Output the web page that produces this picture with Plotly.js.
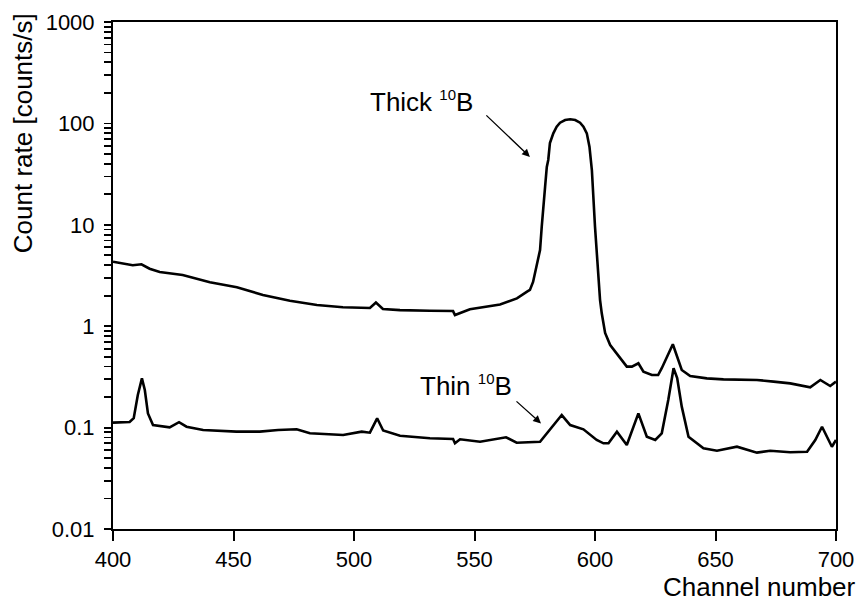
<!DOCTYPE html>
<html>
<head>
<meta charset="utf-8">
<script src="https://cdn.plot.ly/plotly-3.0.1.min.js"></script>
<style>html,body{margin:0;padding:0;background:#fff;}#chart{width:863px;height:604px;}</style>
</head>
<body>
<div id="chart"></div>
<script>
// Thick 10B target spectrum
const thickChannel = [400, 408.2, 411.8, 415.2, 419.4, 428.9, 440.2, 451.4, 462.2, 473.4, 484.6, 495.4, 506.6, 509.1, 512, 519.1, 531.5, 541.1, 541.9, 548.1, 560.6, 567.6, 571.8, 573.0, 574.3, 575.8, 577.2, 577.9, 578.6, 579.3, 580.0, 580.6, 581.3, 582.7, 584.1, 585.5, 587.6, 589.7, 591.8, 593.8, 595.2, 596.6, 597.7, 598.7, 600.0, 601.4, 602.1, 602.8, 604.2, 606.3, 609.1, 613.2, 615.3, 618.0, 620.1, 623.6, 626.2, 627.7, 632.3, 636.0, 639.5, 646.4, 653.3, 660.3, 667.2, 674.1, 681.0, 689.3, 693.5, 697.6, 700];
const thickRate = [4.33, 3.99, 4.08, 3.69, 3.42, 3.20, 2.71, 2.42, 2.03, 1.78, 1.62, 1.54, 1.51, 1.71, 1.48, 1.44, 1.42, 1.41, 1.29, 1.47, 1.64, 1.88, 2.19, 2.28, 2.73, 3.83, 5.64, 9.6, 14.0, 23.8, 37.2, 43.6, 64.1, 79.8, 92.8, 101.6, 108, 109.7, 108, 101.6, 92.8, 79.8, 58.9, 34.7, 9.6, 3.08, 1.81, 1.34, 0.857, 0.653, 0.540, 0.399, 0.399, 0.431, 0.356, 0.330, 0.330, 0.385, 0.663, 0.370, 0.323, 0.306, 0.299, 0.295, 0.295, 0.284, 0.273, 0.250, 0.295, 0.257, 0.284];

// Thin 10B target spectrum
const thinChannel = [400, 406.9, 408.6, 410.3, 412.0, 413.2, 414.5, 416.6, 423.5, 427.4, 430.5, 437.4, 451.2, 460.9, 468.5, 476.2, 481.7, 495.5, 503.2, 506.6, 509.6, 512.1, 519.1, 531.5, 541.1, 541.9, 544, 552.3, 563.1, 567.5, 577.2, 581.3, 586.2, 589.7, 595.2, 600.7, 603.5, 605.6, 609.1, 613.2, 618.0, 621.5, 625, 627.7, 630.4, 632.6, 634.1, 636.0, 638.8, 645.0, 650.6, 658.9, 667.2, 672.7, 681.0, 688.0, 691.4, 694.2, 696, 698.3, 700];
const thinRate = [0.112, 0.1135, 0.124, 0.210, 0.306, 0.235, 0.138, 0.106, 0.1007, 0.113, 0.102, 0.0947, 0.0912, 0.0912, 0.0947, 0.0962, 0.0878, 0.0845, 0.0912, 0.0891, 0.1235, 0.0936, 0.0832, 0.0784, 0.0772, 0.070, 0.0767, 0.0726, 0.0802, 0.0710, 0.0726, 0.0947, 0.133, 0.106, 0.0962, 0.0755, 0.070, 0.070, 0.0912, 0.0674, 0.138, 0.0813, 0.0755, 0.0878, 0.187, 0.385, 0.308, 0.161, 0.0813, 0.0625, 0.0592, 0.0648, 0.0566, 0.0592, 0.0571, 0.0578, 0.0755, 0.102, 0.0845, 0.0648, 0.0755];

const yTickVals = [0.01, 0.1, 1, 10, 100, 1000];
const yTickText = ['0.01', '0.1', '1', '10', '100', '1000'];
const xTickVals = [400, 450, 500, 550, 600, 650, 700];
const decades = [0.01, 0.1, 1, 10, 100];
const minorMultipliers = [2, 3, 4, 5, 6, 7, 8, 9];

// all y ticks: labelled decades plus unlabelled minor ticks
const allYTickVals = yTickVals.slice();
const allYTickText = yTickText.slice();
decades.forEach(d => minorMultipliers.forEach(k => { allYTickVals.push(d * k); allYTickText.push(''); }));

const FONT = '"Liberation Sans", Arial, sans-serif';

const traces = [
  {x: thickChannel, y: thickRate, type: 'scatter', mode: 'lines', line: {color: '#000', width: 2.6}, hoverinfo: 'skip'},
  {x: thinChannel, y: thinRate, type: 'scatter', mode: 'lines', line: {color: '#000', width: 2.6}, hoverinfo: 'skip'}
];

const layout = {
  width: 863, height: 604,
  margin: {l: 113, r: 27, t: 22, b: 75},
  paper_bgcolor: '#fff', plot_bgcolor: '#fff',
  showlegend: false,
  font: {family: FONT, color: '#000', size: 22},
  xaxis: {
    range: [400, 700], tickmode: 'array', tickvals: xTickVals,
    ticks: 'outside', ticklen: 10, tickwidth: 2, tickcolor: '#000',
    showline: true, linewidth: 2, linecolor: '#000', mirror: true,
    showgrid: false, zeroline: false,
    tickfont: {family: FONT, size: 22, color: '#000'}
  },
  yaxis: {
    type: 'log', range: [-2, 3], tickmode: 'array', tickvals: allYTickVals, ticktext: allYTickText,
    ticks: 'outside', ticklen: 7, tickwidth: 1.8, tickcolor: '#000', ticklabelstandoff: 5,
    showline: true, linewidth: 2, linecolor: '#000', mirror: true,
    showgrid: false, zeroline: false,
    tickfont: {family: FONT, size: 22, color: '#000'}
  },
  annotations: [
    {xref: 'paper', yref: 'paper', x: -0.125, y: 0.78, text: 'Count rate [counts/s]', textangle: -90,
     showarrow: false, xanchor: 'center', yanchor: 'middle', font: {family: FONT, size: 26, color: '#000'}},
    {xref: 'paper', yref: 'paper', x: 1.03, y: -0.114, text: 'Channel number',
     showarrow: false, xanchor: 'right', yanchor: 'middle', font: {family: FONT, size: 26, color: '#000'}},
    {xref: 'x', yref: 'y', x: 506.0, y: Math.log10(165), text: 'Thick <sup><span style="font-size:15px">10</span></sup>B',
     showarrow: false, xanchor: 'left', yanchor: 'middle', font: {family: FONT, size: 26, color: '#000'}},
    {xref: 'x', yref: 'y', x: 526.5, y: Math.log10(0.262), text: 'Thin <sup><span style="font-size:15px">10</span></sup>B',
     showarrow: false, xanchor: 'left', yanchor: 'middle', font: {family: FONT, size: 26, color: '#000'}},
    {xref: 'x', yref: 'y', axref: 'x', ayref: 'y', x: 573.0, y: Math.log10(46.7), ax: 554.3, ay: Math.log10(123.9),
     text: '', showarrow: true, arrowhead: 2, arrowsize: 1.2, arrowwidth: 1.3, arrowcolor: '#000'},
    {xref: 'x', yref: 'y', axref: 'x', ayref: 'y', x: 577.6, y: Math.log10(0.110), ax: 566.8, ay: Math.log10(0.187),
     text: '', showarrow: true, arrowhead: 2, arrowsize: 1.2, arrowwidth: 1.3, arrowcolor: '#000'}
  ]
};

Plotly.newPlot('chart', traces, layout, {staticPlot: true, displayModeBar: false});
</script>
</body>
</html>
